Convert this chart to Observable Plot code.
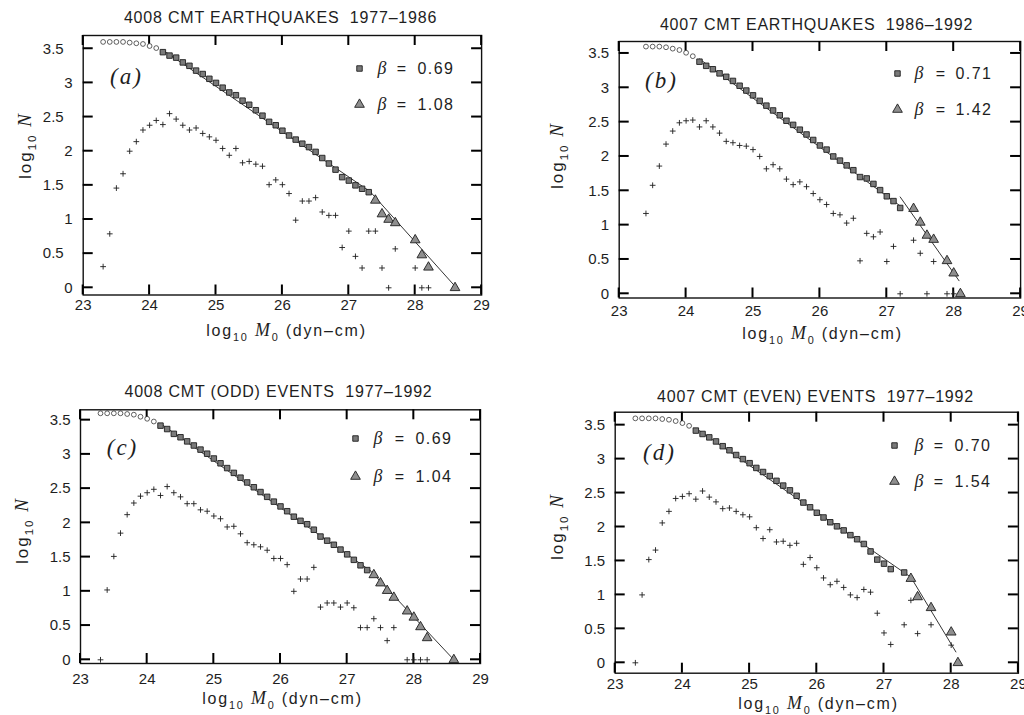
<!DOCTYPE html>
<html>
<head>
<meta charset="utf-8">
<script src="https://cdn.jsdelivr.net/npm/d3@7"></script>
<script src="https://cdn.jsdelivr.net/npm/@observablehq/plot@0.6"></script>
<style>
  html, body { margin: 0; padding: 0; background: #fff; }
  #root { position: relative; width: 1024px; height: 715px; overflow: hidden; background: #fff; }
  .panel { position: absolute; }
  .panel svg { display: block; max-width: none; }
</style>
</head>
<body>
<div id="root"></div>
<script>
// ---------- shared axis definitions ----------
const xTicks = [23, 24, 25, 26, 27, 28, 29];
const xTickLabels = ["23", "24", "25", "26", "27", "28", "29"];
const yTicks = [0, 0.5, 1, 1.5, 2, 2.5, 3, 3.5];
const yTickLabels = ["0", "0.5", "1", "1.5", "2", "2.5", "3", "3.5"];
const xAxisLabel = "log_{10} *M*_{0} (dyn–cm)";
const yAxisLabel = "log_{10} *N*";

// ---------- panel (a) ----------
const aTitle = "4008 CMT EARTHQUAKES  1977–1986";
const aLetter = "(a)";
const aBeta = ["0.69", "1.08"];
const aCircleX = [23.3, 23.4, 23.5, 23.6, 23.7, 23.8, 23.9, 24.0, 24.1];
const aCircleY = [3.60, 3.60, 3.60, 3.60, 3.59, 3.58, 3.57, 3.54, 3.51];
const aSquareX = [24.2, 24.3, 24.4, 24.5, 24.6, 24.7, 24.8, 24.9, 25.0, 25.1, 25.2, 25.3, 25.4, 25.5, 25.6, 25.7, 25.8, 25.9, 26.0, 26.1, 26.2, 26.3, 26.4, 26.5, 26.6, 26.7, 26.8, 26.9, 27.0, 27.1, 27.2, 27.3];
const aSquareY = [3.45, 3.40, 3.37, 3.30, 3.25, 3.18, 3.13, 3.06, 3.00, 2.93, 2.86, 2.82, 2.74, 2.68, 2.60, 2.52, 2.43, 2.38, 2.30, 2.23, 2.17, 2.11, 2.06, 1.99, 1.90, 1.82, 1.73, 1.62, 1.57, 1.50, 1.45, 1.40];
const aTriX = [27.4, 27.5, 27.6, 27.7, 28.0, 28.1, 28.2, 28.6];
const aTriY = [1.28, 1.08, 1.00, 0.95, 0.70, 0.48, 0.30, 0.00];
const aPlusX = [23.3, 23.4, 23.5, 23.6, 23.7, 23.8, 23.9, 24.0, 24.1, 24.2, 24.3, 24.4, 24.5, 24.6, 24.7, 24.8, 24.9, 25.0, 25.1, 25.2, 25.3, 25.4, 25.5, 25.6, 25.7, 25.8, 25.9, 26.0, 26.1, 26.2, 26.3, 26.4, 26.5, 26.6, 26.7, 26.8, 26.9, 27.0, 27.1, 27.2, 27.3, 27.4, 27.5, 27.6, 27.7, 28.0, 28.1, 28.2];
const aPlusY = [0.31, 0.79, 1.46, 1.67, 2.00, 2.14, 2.31, 2.38, 2.45, 2.39, 2.55, 2.47, 2.38, 2.31, 2.34, 2.26, 2.21, 2.16, 2.04, 1.94, 2.04, 1.83, 1.85, 1.81, 1.78, 1.51, 1.58, 1.51, 1.38, 0.99, 1.27, 1.27, 1.32, 1.11, 1.06, 1.06, 0.59, 0.83, 0.46, 0.29, 0.83, 0.83, 0.29, 0.00, 0.57, 0.29, 0.00, 0.00];
const aFitLow = [[24.2, 3.48], [27.32, 1.41]];
const aFitHigh = [[27.32, 1.41], [28.62, 0.00]];

// ---------- panel (b) ----------
const bTitle = "4007 CMT EARTHQUAKES  1986–1992";
const bLetter = "(b)";
const bBeta = ["0.71", "1.42"];
const bCircleX = [23.4, 23.5, 23.6, 23.7, 23.8, 23.9, 24.0, 24.1];
const bCircleY = [3.60, 3.60, 3.60, 3.59, 3.57, 3.55, 3.51, 3.46];
const bSquareX = [24.2, 24.3, 24.4, 24.5, 24.6, 24.7, 24.8, 24.9, 25.0, 25.1, 25.2, 25.3, 25.4, 25.5, 25.6, 25.7, 25.8, 25.9, 26.0, 26.1, 26.2, 26.3, 26.4, 26.5, 26.6, 26.7, 26.8, 26.9, 27.0, 27.1, 27.2];
const bSquareY = [3.38, 3.32, 3.27, 3.21, 3.16, 3.10, 3.03, 2.96, 2.89, 2.81, 2.74, 2.67, 2.60, 2.52, 2.46, 2.39, 2.32, 2.24, 2.16, 2.10, 2.00, 1.94, 1.87, 1.80, 1.70, 1.68, 1.60, 1.51, 1.42, 1.35, 1.25];
const bTriX = [27.4, 27.5, 27.6, 27.7, 27.9, 28.0, 28.1];
const bTriY = [1.24, 1.04, 0.85, 0.79, 0.48, 0.30, 0.00];
const bPlusX = [23.4, 23.5, 23.6, 23.7, 23.8, 23.9, 24.0, 24.1, 24.2, 24.3, 24.4, 24.5, 24.6, 24.7, 24.8, 24.9, 25.0, 25.1, 25.2, 25.3, 25.4, 25.5, 25.6, 25.7, 25.8, 25.9, 26.0, 26.1, 26.2, 26.3, 26.4, 26.5, 26.6, 26.7, 26.8, 26.9, 27.0, 27.1, 27.2, 27.4, 27.5, 27.6, 27.7, 27.9, 28.0];
const bPlusY = [1.17, 1.58, 1.86, 2.18, 2.37, 2.49, 2.52, 2.53, 2.43, 2.52, 2.43, 2.34, 2.22, 2.20, 2.16, 2.15, 2.10, 2.00, 1.82, 1.88, 1.82, 1.67, 1.59, 1.63, 1.56, 1.46, 1.37, 1.30, 1.17, 1.15, 1.03, 1.10, 0.48, 0.88, 0.83, 0.90, 0.47, 0.69, 0.00, 0.78, 0.59, 0.00, 0.47, 0.00, 0.00];
const bFitLow = [[24.2, 3.42], [27.2, 1.28]];
const bFitHigh = [[27.2, 1.41], [28.08, 0.19]];

// ---------- panel (c) ----------
const cTitle = "4008 CMT (ODD) EVENTS  1977–1992";
const cLetter = "(c)";
const cBeta = ["0.69", "1.04"];
const cCircleX = [23.3, 23.4, 23.5, 23.6, 23.7, 23.8, 23.9, 24.0, 24.1];
const cCircleY = [3.60, 3.60, 3.60, 3.60, 3.59, 3.58, 3.55, 3.52, 3.48];
const cSquareX = [24.2, 24.3, 24.4, 24.5, 24.6, 24.7, 24.8, 24.9, 25.0, 25.1, 25.2, 25.3, 25.4, 25.5, 25.6, 25.7, 25.8, 25.9, 26.0, 26.1, 26.2, 26.3, 26.4, 26.5, 26.6, 26.7, 26.8, 26.9, 27.0, 27.1, 27.2, 27.3];
const cSquareY = [3.42, 3.37, 3.30, 3.25, 3.19, 3.13, 3.07, 3.01, 2.94, 2.87, 2.80, 2.73, 2.66, 2.59, 2.52, 2.45, 2.38, 2.31, 2.24, 2.17, 2.09, 2.03, 1.98, 1.90, 1.80, 1.74, 1.68, 1.61, 1.54, 1.46, 1.38, 1.31];
const cTriX = [27.4, 27.5, 27.6, 27.7, 27.9, 28.0, 28.1, 28.2, 28.6];
const cTriY = [1.24, 1.12, 1.01, 0.91, 0.71, 0.62, 0.48, 0.32, 0.00];
const cPlusX = [23.3, 23.4, 23.5, 23.6, 23.7, 23.8, 23.9, 24.0, 24.1, 24.2, 24.3, 24.4, 24.5, 24.6, 24.7, 24.8, 24.9, 25.0, 25.1, 25.2, 25.3, 25.4, 25.5, 25.6, 25.7, 25.8, 25.9, 26.0, 26.1, 26.2, 26.3, 26.4, 26.5, 26.6, 26.7, 26.8, 26.9, 27.0, 27.1, 27.2, 27.3, 27.4, 27.5, 27.6, 27.7, 27.9, 28.0, 28.1, 28.2];
const cPlusY = [0.00, 1.02, 1.51, 1.85, 2.12, 2.29, 2.39, 2.44, 2.49, 2.40, 2.53, 2.44, 2.38, 2.28, 2.28, 2.19, 2.17, 2.10, 2.06, 1.94, 1.95, 1.84, 1.71, 1.68, 1.65, 1.60, 1.48, 1.48, 1.39, 1.00, 1.18, 1.18, 1.35, 0.77, 0.83, 0.83, 0.77, 0.83, 0.76, 0.47, 0.47, 0.60, 0.47, 0.28, 0.47, 0.00, 0.00, 0.00, 0.00];
const cFitLow = [[24.2, 3.45], [27.35, 1.30]];
const cFitHigh = [[27.35, 1.30], [28.62, -0.02]];

// ---------- panel (d) ----------
const dTitle = "4007 CMT (EVEN) EVENTS  1977–1992";
const dLetter = "(d)";
const dBeta = ["0.70", "1.54"];
const dCircleX = [23.3, 23.4, 23.5, 23.6, 23.7, 23.8, 23.9, 24.0, 24.1];
const dCircleY = [3.60, 3.60, 3.60, 3.60, 3.59, 3.58, 3.56, 3.53, 3.49];
const dSquareX = [24.2, 24.3, 24.4, 24.5, 24.6, 24.7, 24.8, 24.9, 25.0, 25.1, 25.2, 25.3, 25.4, 25.5, 25.6, 25.7, 25.8, 25.9, 26.0, 26.1, 26.2, 26.3, 26.4, 26.5, 26.6, 26.7, 26.8, 26.9, 27.0, 27.1, 27.3];
const dSquareY = [3.42, 3.37, 3.32, 3.26, 3.19, 3.13, 3.06, 3.00, 2.94, 2.87, 2.81, 2.75, 2.68, 2.61, 2.54, 2.46, 2.36, 2.29, 2.21, 2.14, 2.07, 2.01, 1.95, 1.88, 1.82, 1.75, 1.64, 1.52, 1.46, 1.38, 1.33];
const dTriX = [27.4, 27.5, 27.7, 28.0, 28.1];
const dTriY = [1.24, 0.97, 0.81, 0.45, 0.00];
const dPlusX = [23.3, 23.4, 23.5, 23.6, 23.7, 23.8, 23.9, 24.0, 24.1, 24.2, 24.3, 24.4, 24.5, 24.6, 24.7, 24.8, 24.9, 25.0, 25.1, 25.2, 25.3, 25.4, 25.5, 25.6, 25.7, 25.8, 25.9, 26.0, 26.1, 26.2, 26.3, 26.4, 26.5, 26.6, 26.7, 26.8, 26.9, 27.0, 27.1, 27.3, 27.4, 27.5, 27.7, 28.0];
const dPlusY = [0.00, 1.00, 1.52, 1.66, 2.06, 2.23, 2.42, 2.45, 2.49, 2.41, 2.53, 2.44, 2.37, 2.27, 2.28, 2.23, 2.18, 2.15, 1.99, 1.83, 1.96, 1.78, 1.79, 1.73, 1.76, 1.45, 1.55, 1.40, 1.25, 1.15, 1.20, 1.11, 1.00, 0.96, 1.08, 1.04, 0.73, 0.44, 0.27, 0.56, 0.92, 0.43, 0.56, 0.26];
const dFitLow = [[24.25, 3.42], [27.4, 1.26]];
const dFitHigh = [[27.4, 1.26], [28.07, 0.16]];

// ---------- styling ----------
const INK = "#1e1e1e";
const SQFILL = "#7a7a7a";
const TRIFILL = "#8e8e8e";
const SANS = "'Liberation Sans', Arial, Helvetica, sans-serif";
const SERIF = "'Liberation Serif', 'Times New Roman', serif";
const SVGNS = "http://www.w3.org/2000/svg";

// page layout of each panel (pixel geometry of frame and data scale)
const panels = [
  {
    title: aTitle, letter: aLetter, beta: aBeta,
    circleX: aCircleX, circleY: aCircleY, squareX: aSquareX, squareY: aSquareY,
    triX: aTriX, triY: aTriY, plusX: aPlusX, plusY: aPlusY, fitLow: aFitLow, fitHigh: aFitHigh,
    L: {left: 0, top: 0, width: 512, height: 345, fl: 82.7, fr: 481.1, ft: 35, fb: 294.5, y0: 287.3, ky: 68.3, xPad: 4, yPadInt: 10.5, yPadHalf: 19.5},
    pos: {title: [280, 17], letter: [126, 76], ylab: [25, 145], xlab: [286, 330],
          sym: [359, 68, 104], beta: 377, eq: 401, num: 417}
  },
  {
    title: bTitle, letter: bLetter, beta: bBeta,
    circleX: bCircleX, circleY: bCircleY, squareX: bSquareX, squareY: bSquareY,
    triX: bTriX, triY: bTriY, plusX: bPlusX, plusY: bPlusY, fitLow: bFitLow, fitHigh: bFitHigh,
    L: {left: 512, top: 0, width: 512, height: 345, fl: 618.7, fr: 1020.1, ft: 41, fb: 297.5, y0: 293.3, ky: 68.67, xPad: 7, yPadInt: 10, yPadHalf: 10},
    pos: {title: [816, 24], letter: [661, 80], ylab: [557, 155], xlab: [822, 333],
          sym: [897, 73, 109], beta: 914, eq: 940, num: 955}
  },
  {
    title: cTitle, letter: cLetter, beta: cBeta,
    circleX: cCircleX, circleY: cCircleY, squareX: cSquareX, squareY: cSquareY,
    triX: cTriX, triY: cTriY, plusX: cPlusX, plusY: cPlusY, fitLow: cFitLow, fitHigh: cFitHigh,
    L: {left: 0, top: 350, width: 512, height: 365, fl: 80, fr: 480, ft: 409.3, fb: 663, y0: 659.3, ky: 68.47, xPad: 9.5, yPadInt: 10, yPadHalf: 10},
    pos: {title: [278, 391], letter: [122, 447], ylab: [22, 530], xlab: [282, 698],
          sym: [355, 438, 476], beta: 373, eq: 399, num: 415}
  },
  {
    title: dTitle, letter: dLetter, beta: dBeta,
    circleX: dCircleX, circleY: dCircleY, squareX: dSquareX, squareY: dSquareY,
    triX: dTriX, triY: dTriY, plusX: dPlusX, plusY: dPlusY, fitLow: dFitLow, fitHigh: dFitHigh,
    L: {left: 512, top: 350, width: 512, height: 365, fl: 614.7, fr: 1017.9, ft: 411.7, fb: 672.7, y0: 662.3, ky: 67.9, xPad: 5, yPadInt: 10, yPadHalf: 10},
    pos: {title: [815, 396], letter: [659, 452], ylab: [557, 526], xlab: [818, 703],
          sym: [894, 445, 481], beta: 914, eq: 938, num: 954}
  }
];

// turn "_{sub}" and "*italic*" markup into tspans
function richify(svg) {
  svg.querySelectorAll("text").forEach(t => {
    const s = t.textContent;
    if (!/_\{|\*/.test(s) || t.querySelector("tspan")) return;
    t.textContent = "";
    const re = /_\{([^}]*)\}|\*([^*]*)\*|([^_*]+)/g;
    let m, lowered = false;
    while ((m = re.exec(s))) {
      const ts = document.createElementNS(SVGNS, "tspan");
      if (m[1] !== undefined) {
        ts.textContent = m[1];
        ts.setAttribute("font-size", "68%");
        if (!lowered) { ts.setAttribute("dy", "5"); lowered = true; }
      } else {
        if (lowered) { ts.setAttribute("dy", "-5"); lowered = false; }
        if (m[2] !== undefined) {
          ts.textContent = m[2];
          ts.setAttribute("font-style", "italic");
          ts.setAttribute("font-family", SERIF);
          ts.setAttribute("font-size", "112%");
        } else {
          ts.textContent = m[3];
        }
      }
      t.appendChild(ts);
    }
  });
}

function spacing(svg, label, value) {
  svg.querySelectorAll(`[aria-label="${label}"]`).forEach(el => el.setAttribute("letter-spacing", value));
}

// inward ticks as small filled bars (data units derived from pixel tick size)
function tickBars(L, xDomain, yDomain) {
  const T = 10, W = 1.0; // length, half-width in px
  const kx = (L.fr - L.fl) / (xDomain[1] - xDomain[0]);
  const tX = T / kx, tY = T / L.ky, wX = W / kx, wY = W / L.ky;
  const bars = [];
  xTicks.forEach(v => {
    bars.push({x1: v - wX, x2: v + wX, y1: yDomain[0], y2: yDomain[0] + tY});
    bars.push({x1: v - wX, x2: v + wX, y1: yDomain[1] - tY, y2: yDomain[1]});
  });
  yTicks.forEach(v => {
    bars.push({x1: xDomain[0], x2: xDomain[0] + tX, y1: v - wY, y2: v + wY});
    bars.push({x1: xDomain[1] - tX, x2: xDomain[1], y1: v - wY, y2: v + wY});
  });
  return bars;
}

function buildPanel(P) {
  const L = P.L, pos = P.pos;
  const at = (px, py) => ({frameAnchor: "top-left", dx: px - L.fl, dy: py - L.ft});
  const yDomain = [-(L.fb - L.y0) / L.ky, (L.y0 - L.ft) / L.ky];
  const xDomain = [23, 29];
  const fmtY = d => yTickLabels[yTicks.indexOf(d)];
  const fmtX = d => xTickLabels[xTicks.indexOf(d)];
  const labelOpts = {tickSize: 0, label: null, fill: INK, fontSize: 15};
  const intTicks = yTicks.filter(v => Number.isInteger(v));
  const halfTicks = yTicks.filter(v => !Number.isInteger(v));
  const textFn = {text: d => d};
  const tag = name => ({ariaLabel: () => name});

  const marks = [
    Plot.frame({stroke: "#111", strokeWidth: 1.4}),
    Plot.rect(tickBars(L, xDomain, yDomain), {x1: "x1", x2: "x2", y1: "y1", y2: "y2", fill: "#000"}),
    // tick labels
    Plot.axisX({anchor: "bottom", ticks: xTicks, tickPadding: L.xPad, tickFormat: fmtX, ...labelOpts}),
    Plot.axisY({anchor: "left", ticks: intTicks, tickPadding: L.yPadInt, tickFormat: fmtY, ...labelOpts}),
    Plot.axisY({anchor: "left", ticks: halfTicks, tickPadding: L.yPadHalf, tickFormat: fmtY, ...labelOpts}),

    // incremental counts (+)
    Plot.dot(P.plusX, {x: P.plusX, y: P.plusY, symbol: "plus", r: 2.0, stroke: INK, strokeWidth: 0.9}),
    // fitted lines
    Plot.line(P.fitLow, {stroke: INK, strokeWidth: 0.9}),
    Plot.line(P.fitHigh, {stroke: INK, strokeWidth: 0.9}),
    // cumulative counts
    Plot.dot(P.squareX, {x: P.squareX, y: P.squareY, symbol: "square", r: 3.1, fill: SQFILL, stroke: INK, strokeWidth: 0.9}),
    Plot.dot(P.triX, {x: P.triX, y: P.triY, symbol: "triangle", r: 3.6, fill: TRIFILL, stroke: INK, strokeWidth: 0.9}),
    Plot.dot(P.circleX, {x: P.circleX, y: P.circleY, symbol: "circle", r: 2.4, fill: "white", stroke: INK, strokeWidth: 0.7}),

    // legend
    Plot.dot([P.beta[0]], {...at(pos.sym[0], pos.sym[1]), symbol: "square", r: 3.1, fill: SQFILL, stroke: INK, strokeWidth: 0.9}),
    Plot.dot([P.beta[1]], {...at(pos.sym[0], pos.sym[2]), symbol: "triangle", r: 3.6, fill: TRIFILL, stroke: INK, strokeWidth: 0.9}),
    ...[pos.sym[1], pos.sym[2]].flatMap((py, i) => [
      Plot.text(["*β*"], {...textFn, ...at(pos.beta, py), textAnchor: "start", lineAnchor: "middle", fontSize: 16, fill: INK}),
      Plot.text(["="], {...textFn, ...at(pos.eq, py), textAnchor: "middle", lineAnchor: "middle", fontSize: 16, fill: INK}),
      Plot.text([P.beta[i]], {...textFn, ...at(pos.num, py), textAnchor: "start", lineAnchor: "middle", fontSize: 16, fill: INK, ...tag("legend-num")})
    ]),

    // titles & labels
    Plot.text([P.title], {...textFn, ...at(pos.title[0], pos.title[1]), textAnchor: "middle", lineAnchor: "middle", fontSize: 16, fill: INK, ...tag("title")}),
    Plot.text([P.letter], {...textFn, ...at(pos.letter[0], pos.letter[1]), textAnchor: "middle", lineAnchor: "middle", fontSize: 23, fontStyle: "italic", fontFamily: SERIF, fill: INK, ...tag("letter")}),
    Plot.text([xAxisLabel], {...textFn, ...at(pos.xlab[0], pos.xlab[1]), textAnchor: "middle", lineAnchor: "middle", fontSize: 16, fill: INK, ...tag("xlabel")}),
    Plot.text([yAxisLabel], {...textFn, ...at(pos.ylab[0], pos.ylab[1]), textAnchor: "middle", lineAnchor: "middle", rotate: -90, fontSize: 17, fill: INK, ...tag("ylabel")})
  ];

  const svg = Plot.plot({
    width: L.width,
    height: L.height,
    marginLeft: L.fl - L.left,
    marginRight: L.left + L.width - L.fr,
    marginTop: L.ft - L.top,
    marginBottom: L.top + L.height - L.fb,
    x: {domain: xDomain},
    y: {domain: yDomain},
    style: {fontFamily: SANS, fontSize: "15px", color: INK, background: "white", overflow: "visible"},
    marks
  });
  richify(svg);
  spacing(svg, "title", "0.8px");
  spacing(svg, "legend-num", "1.4px");
  spacing(svg, "letter", "2px");
  spacing(svg, "xlabel", "1.8px");
  spacing(svg, "ylabel", "2px");

  const div = document.createElement("div");
  div.className = "panel";
  div.style.left = L.left + "px";
  div.style.top = L.top + "px";
  div.style.width = L.width + "px";
  div.style.height = L.height + "px";
  div.appendChild(svg);
  return div;
}

const root = document.getElementById("root");
panels.forEach(P => root.appendChild(buildPanel(P)));
</script>
</body>
</html>
